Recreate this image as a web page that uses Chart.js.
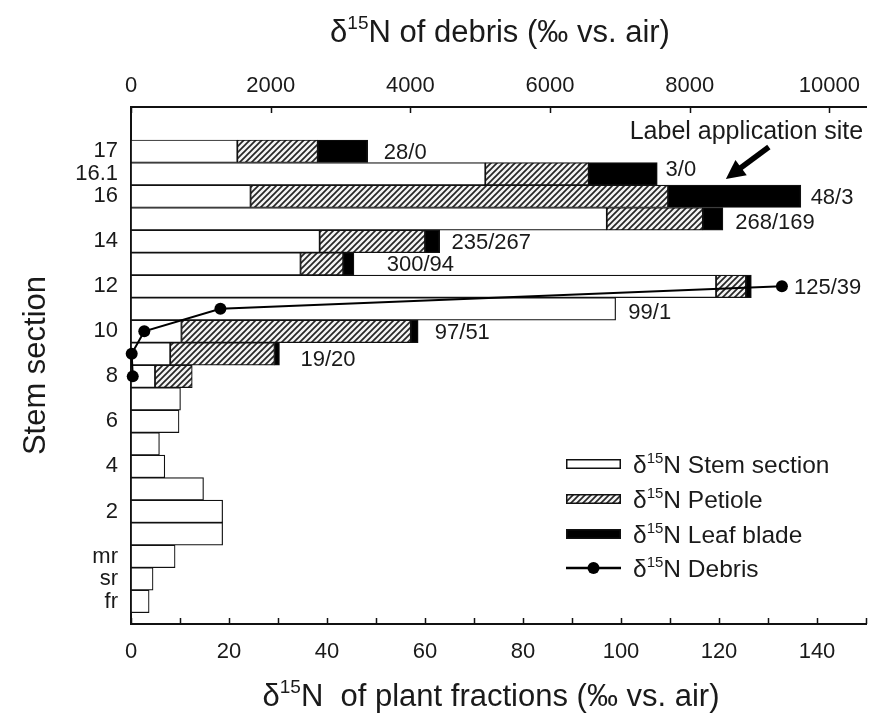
<!DOCTYPE html>
<html>
<head>
<meta charset="utf-8">
<title>δ15N of plant fractions and debris by stem section</title>
<script src="https://cdn.jsdelivr.net/npm/chart.js@4.4.1/dist/chart.umd.min.js"></script>
<style>
html,body{margin:0;padding:0;background:#ffffff;}
#wrap{width:881px;height:725px;}
canvas{display:block;}
</style>
</head>
<body>
<div id="wrap"><canvas id="chart" width="881" height="725"></canvas></div>
<script>
// ---------------- data ----------------
const sections = ['17','16.1','16','15','14','13','12','11','10','9','8','7','6','5','4','3','2','1','mr','sr','fr'];
const labelledSections = ['17','16.1','16','14','12','10','8','6','4','2','mr','sr','fr'];
const stemValues    = [21.7, 72.3, 24.4, 97.1, 38.5, 34.6, 119.4, 98.9, 10.3, 8.0, 4.9, 10.1, 9.8, 5.8, 6.9, 14.8, 18.7, 18.7, 9.0, 4.5, 3.7];
const petioleValues = [16.4, 21.1, 85.2, 19.6, 21.5, 8.7, 6.1, null, 46.8, 21.3, 7.6, null, null, null, null, null, null, null, null, null, null];
const leafValues    = [10.2, 14.0, 27.1, 4.1, 3.0, 2.2, 1.1, null, 1.5, 1.0, null, null, null, null, null, null, null, null, null, null, null];
const debrisSections = ['12','11','10','9','8'];
const debrisValues   = [9320, 1280, 190, 10, 25];
const countSections = ['17','16.1','16','15','14','13','12','11','10','9'];
const countLabels   = ['28/0','3/0','48/3','268/169','235/267','300/94','125/39','99/1','97/51','19/20'];
const countLabelAt  = [51.6, 109.1, 138.7, 123.3, 65.4, 52.2, 135.3, 101.5, 62.0, 34.6];
const plantTicks      = [0,10,20,30,40,50,60,70,80,90,100,110,120,130,140,150];
const plantTickLabels = ['0','','20','','40','','60','','80','','100','','120','','140',''];
const debrisTicks      = [0,2000,4000,6000,8000,10000];
const debrisTickLabels = ['0','2000','4000','6000','8000','10000'];

// ---------------- style ----------------
const FONT = "'Liberation Sans', Arial, Helvetica, sans-serif";
const INK = '#111111';
const TEXT = '#1a1a1a';
const TICK_SIZE = 22;
const NOTE_SIZE = 22;
const noteShift = [2, -4, 2, 4, 2, 1, 2, 4, 2, 6];
Chart.defaults.font.family = FONT;
Chart.defaults.color = TEXT;

const canvas = document.getElementById('chart');
const mainCtx = canvas.getContext('2d');
function makeHatch() {
  const t = document.createElement('canvas');
  t.width = 6; t.height = 6;
  const g = t.getContext('2d');
  g.fillStyle = '#f4f4f4'; g.fillRect(0, 0, 6, 6);
  g.strokeStyle = '#262626'; g.lineWidth = 1.7;
  g.beginPath();
  g.moveTo(-1, 1); g.lineTo(1, -1);
  g.moveTo(-1, 7); g.lineTo(7, -1);
  g.moveTo(5, 7); g.lineTo(7, 5);
  g.stroke();
  return mainCtx.createPattern(t, 'repeat');
}
const hatch = makeHatch();

const rowOf = s => sections.indexOf(s);
const stemData = [], petData = [], leafData = [];
sections.forEach((s, i) => {
  const a = stemValues[i];
  stemData.push({ y: i, x: [0, a] });
  const p = petioleValues[i];
  if (p != null) petData.push({ y: i, x: [a, a + p] });
  const l = leafValues[i];
  if (l != null) { const b = a + (p || 0); leafData.push({ y: i, x: [b, b + l] }); }
});
const debrisData = debrisSections.map((s, k) => ({ y: rowOf(s), x: debrisValues[k] }));

const barCommon = {
  type: 'bar', xAxisID: 'x', yAxisID: 'y', grouped: false,
  barPercentage: 1, categoryPercentage: 1,
  borderColor: INK, borderWidth: 1.2, borderSkipped: false
};

// rich text helper (superscripts marked as ^..^)
function richParts(str) {
  const out = []; const bits = str.split('^');
  bits.forEach((b, i) => { if (b) out.push({ t: b, sup: i % 2 === 1 }); });
  return out;
}
function drawRich(ctx, str, x, y, size, align) {
  const parts = richParts(str);
  const sup = Math.round(size * 0.62);
  let w = 0;
  parts.forEach(p => { ctx.font = (p.sup ? sup : size) + 'px ' + FONT; p.w = ctx.measureText(p.t).width; w += p.w; });
  let cx = align === 'center' ? x - w / 2 : (align === 'right' ? x - w : x);
  const base = y + size * 0.36;
  ctx.textAlign = 'left'; ctx.textBaseline = 'alphabetic'; ctx.fillStyle = TEXT;
  parts.forEach(p => {
    ctx.font = (p.sup ? sup : size) + 'px ' + FONT;
    ctx.fillText(p.t, cx, p.sup ? base - size * 0.42 : base);
    cx += p.w;
  });
}

const decorPlugin = {
  id: 'decor',
  beforeDraw(chart) {
    const c = chart.ctx; c.save(); c.fillStyle = '#ffffff'; c.fillRect(0, 0, chart.width, chart.height); c.restore();
  },
  afterDatasetsDraw(chart) {
    const c = chart.ctx, xs = chart.scales.x, ys = chart.scales.y;
    c.save();
    c.font = NOTE_SIZE + 'px ' + FONT; c.fillStyle = TEXT; c.textAlign = 'left'; c.textBaseline = 'middle';
    countLabels.forEach((t, k) => {
      c.fillText(t, xs.getPixelForValue(countLabelAt[k]), ys.getPixelForValue(rowOf(countSections[k])) + noteShift[k]);
    });
    // Label application site + arrow
    c.font = '25px ' + FONT; c.textAlign = 'center';
    c.fillText('Label application site', xs.getPixelForValue(125.6), ys.getPixelForValue(-0.83));
    const tx = xs.getPixelForValue(121.4), ty = ys.getPixelForValue(1.23);
    const sx = tx + 43, sy = ty - 32;
    const ang = Math.atan2(ty - sy, tx - sx);
    const hl = 19, hw = 9.5;
    const bx = tx - hl * Math.cos(ang), by = ty - hl * Math.sin(ang);
    c.strokeStyle = '#000'; c.lineWidth = 5.5; c.lineCap = 'butt';
    c.beginPath(); c.moveTo(sx, sy); c.lineTo(bx + 2 * Math.cos(ang), by + 2 * Math.sin(ang)); c.stroke();
    c.fillStyle = '#000';
    c.beginPath();
    c.moveTo(tx, ty);
    c.lineTo(bx - hw * Math.sin(ang), by + hw * Math.cos(ang));
    c.lineTo(bx + hw * Math.sin(ang), by - hw * Math.cos(ang));
    c.closePath(); c.fill();
    c.restore();
  },
  afterDraw(chart) {
    const c = chart.ctx, a = chart.chartArea;
    const xs = chart.scales.x, x2 = chart.scales.x2;
    c.save();
    // inward tick marks
    c.strokeStyle = INK; c.lineWidth = 1.5;
    c.beginPath();
    xs.ticks.forEach(t => { const p = Math.round(xs.getPixelForValue(t.value)) + 0.5; c.moveTo(p, a.bottom); c.lineTo(p, a.bottom - 6); });
    x2.ticks.forEach(t => { const p = Math.round(x2.getPixelForValue(t.value)) + 0.5; c.moveTo(p, a.top); c.lineTo(p, a.top + 6); });
    c.stroke();
    // titles
    drawRich(c, 'δ^15^N of debris (‰ vs. air)', 500, 31, 31, 'center');
    drawRich(c, 'δ^15^N  of plant fractions (‰ vs. air)', 491, 695, 31, 'center');
    // legend
    const ds = chart.data.datasets;
    const lx = 566, lw = 55, tx = 633;
    const rows = [464, 499, 534, 568];
    ds.forEach((d, r) => {
      const y = rows[r];
      if (d.type === 'line') {
        c.strokeStyle = d.borderColor; c.lineWidth = 2.5;
        c.beginPath(); c.moveTo(lx, y); c.lineTo(lx + lw, y); c.stroke();
        c.fillStyle = d.pointBackgroundColor;
        c.beginPath(); c.arc(lx + lw / 2, y, d.pointRadius, 0, Math.PI * 2); c.fill();
      } else {
        const h = 10;
        c.fillStyle = INK; c.fillRect(lx, y - h / 2, lw, h);
        c.fillStyle = d.backgroundColor; c.fillRect(lx + 1.5, y - h / 2 + 1.5, lw - 3, h - 3);
      }
      drawRich(c, d.legendText, tx, y, 24.5, 'left');
    });
    c.restore();
  }
};

new Chart(canvas, {
  type: 'bar',
  data: {
    datasets: [
      Object.assign({ label: 'δ15N Stem section', legendText: 'δ^15^N Stem section', data: stemData, backgroundColor: '#ffffff', order: 3 }, barCommon),
      Object.assign({ label: 'δ15N Petiole', legendText: 'δ^15^N Petiole', data: petData, backgroundColor: hatch, order: 2 }, barCommon),
      Object.assign({ label: 'δ15N Leaf blade', legendText: 'δ^15^N Leaf blade', data: leafData, backgroundColor: '#000000', order: 1 }, barCommon),
      { type: 'line', label: 'δ15N Debris', legendText: 'δ^15^N Debris', data: debrisData, xAxisID: 'x2', yAxisID: 'y',
        borderColor: '#000000', borderWidth: 2, pointRadius: 6, pointBackgroundColor: '#000000', pointBorderColor: '#000000',
        pointBorderWidth: 0, tension: 0, fill: false, clip: false, order: 0 }
    ]
  },
  options: {
    indexAxis: 'y',
    responsive: false,
    animation: false,
    devicePixelRatio: 1,
    layout: { padding: { left: 0, right: 7, top: 0, bottom: 0 } },
    plugins: { legend: { display: false }, tooltip: { enabled: false }, title: { display: false } },
    scales: {
      y: {
        type: 'linear', reverse: true, min: -1.966, max: 21.0, bounds: 'data', offset: false,
        grid: { display: false, drawTicks: false, tickLength: 0 },
        border: { display: true, color: INK, width: 2 },
        afterBuildTicks: s => { s.ticks = sections.map((_, i) => ({ value: i })); },
        ticks: { autoSkip: false, padding: 13, font: { size: TICK_SIZE }, color: TEXT,
          callback: v => (labelledSections.includes(sections[v]) ? sections[v] : '') },
        title: { display: true, text: 'Stem section', font: { size: 31 }, color: TEXT, padding: { top: 18, bottom: 0 } },
        afterFit: s => { s.width = 131; }
      },
      x: {
        type: 'linear', position: 'bottom', axis: 'x', min: 0, max: 150, bounds: 'data',
        grid: { display: false, drawTicks: false, tickLength: 0 },
        border: { display: true, color: INK, width: 2 },
        afterBuildTicks: s => { s.ticks = plantTicks.map(v => ({ value: v })); },
        ticks: { autoSkip: false, maxRotation: 0, padding: 15, font: { size: TICK_SIZE }, color: TEXT,
          callback: v => plantTickLabels[plantTicks.indexOf(v)] },
        afterFit: s => { s.height = 101; }
      },
      x2: {
        type: 'linear', position: 'top', axis: 'x', min: 0, max: 10524, bounds: 'data',
        grid: { display: false, drawTicks: false, tickLength: 0 },
        border: { display: true, color: INK, width: 2 },
        afterBuildTicks: s => { s.ticks = debrisTicks.map(v => ({ value: v })); },
        ticks: { autoSkip: false, maxRotation: 0, padding: 8, font: { size: TICK_SIZE }, color: TEXT,
          callback: v => debrisTickLabels[debrisTicks.indexOf(v)] },
        afterFit: s => { s.height = 107; }
      }
    }
  },
  plugins: [decorPlugin]
});
</script>
</body>
</html>
